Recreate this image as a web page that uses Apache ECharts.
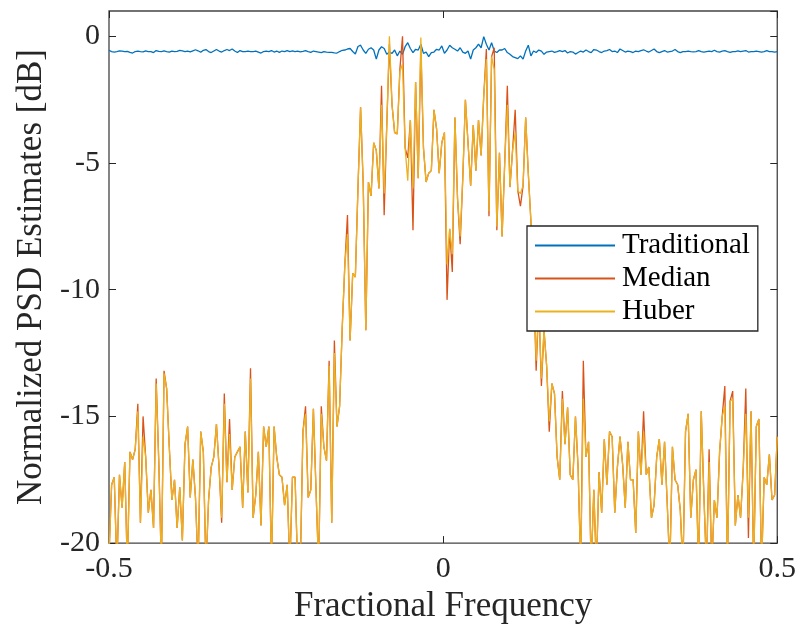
<!DOCTYPE html>
<html>
<head>
<meta charset="utf-8">
<script src="https://cdn.jsdelivr.net/npm/echarts@6/dist/echarts.min.js"></script>
<style>
html,body{margin:0;padding:0;background:#fff;}
#chart{width:799px;height:629px;}
</style>
</head>
<body>
<div id="chart"></div>
<script>
// ---- data ----
const seriesNames = ['Traditional', 'Median', 'Huber'];
const xTicks = [-0.5, 0, 0.5];
const yTicks = [-20, -15, -10, -5, 0];

const traditional = [
-0.55,-0.6,-0.62,-0.6,-0.57,-0.58,-0.6,-0.59,-0.63,-0.66,
-0.6,-0.58,-0.6,-0.61,-0.57,-0.6,-0.6,-0.64,-0.56,-0.59,
-0.6,-0.57,-0.6,-0.62,-0.58,-0.6,-0.59,-0.55,-0.57,-0.6,
-0.58,-0.61,-0.57,-0.53,-0.57,-0.63,-0.55,-0.52,-0.6,-0.64,
-0.58,-0.52,-0.58,-0.62,-0.56,-0.52,-0.56,-0.5,-0.58,-0.64,
-0.56,-0.6,-0.6,-0.58,-0.6,-0.6,-0.58,-0.62,-0.66,-0.6,
-0.58,-0.6,-0.56,-0.62,-0.58,-0.63,-0.58,-0.6,-0.56,-0.6,
-0.57,-0.6,-0.58,-0.61,-0.59,-0.56,-0.6,-0.63,-0.58,-0.6,
-0.62,-0.64,-0.6,-0.62,-0.63,-0.63,-0.65,-0.66,-0.6,-0.55,
-0.54,-0.5,-0.48,-0.6,-0.7,-0.4,-0.35,-0.54,-0.67,-0.51,
-0.45,-0.54,-0.9,-0.54,-0.41,-0.48,-0.71,-0.62,-0.67,-0.54,
-0.77,-0.58,-0.71,-0.41,-0.25,-0.48,-0.64,-0.51,-0.54,-0.31,
-0.67,-0.62,-0.8,-0.64,-0.62,-0.51,-0.54,-0.38,-0.67,-0.54,
-0.35,-0.45,-0.51,-0.58,-0.45,-0.62,-0.67,-0.58,-0.9,-0.54,
-0.45,-0.31,-0.45,-0.01,-0.31,-0.54,-0.25,-0.58,-0.64,-0.54,
-0.54,-0.48,-0.64,-0.71,-0.8,-0.84,-0.88,-0.77,-0.9,-0.58,
-0.35,-0.77,-0.58,-0.64,-0.54,-0.58,-0.71,
-0.62,-0.6,-0.58,-0.63,-0.6,-0.56,-0.6,-0.56,-0.66,-0.6,
-0.62,-0.7,-0.64,-0.58,-0.62,-0.54,-0.6,-0.64,-0.52,-0.54,
-0.6,-0.64,-0.58,-0.56,-0.52,-0.6,-0.58,-0.64,-0.5,-0.56,
-0.62,-0.58,-0.6,-0.64,-0.58,-0.6,-0.56,-0.53,-0.58,-0.62,
-0.56,-0.5,-0.6,-0.64,-0.6,-0.56,-0.62,-0.6,-0.58,-0.52,
-0.6,-0.64,-0.6,-0.6,-0.58,-0.6,-0.61,-0.6,-0.56,-0.6,
-0.62,-0.6,-0.58,-0.6,-0.55,-0.6,-0.62,-0.58,-0.56,-0.6,
-0.63,-0.6,-0.6,-0.57,-0.6,-0.58,-0.56,-0.62,-0.6,-0.6,
-0.58,-0.6,-0.62,-0.6,-0.56,-0.6,-0.6,-0.62,-0.6
];

const median = [
-20.5,-17.7,-17.4,-21,-17.3,-18.6,-16.8,-21,-16.4,-16.7,
-16.3,-14.5,-19.2,-15.0,-16.6,-18.8,-17.9,-19.4,-13.5,-16.8,
-21,-13.2,-13.9,-16.2,-18.3,-17.5,-19.4,-17.8,-19.9,-16.1,
-15.4,-18.2,-16.7,-18.2,-21,-15.6,-16.4,-21,-18.3,-17.0,
-16.6,-15.3,-17.0,-19.2,-14.1,-17.6,-15.1,-17.9,-16.6,-16.4,
-16.2,-18.6,-15.6,-18.0,-13.1,-19.0,-18.1,-16.4,-19.3,-15.4,
-16.2,-15.4,-21,-15.4,-16.6,-17.3,-17.4,-18.5,-17.7,-21,
-17.4,-17.4,-21,-21,-15.6,-14.6,-18.2,-17.9,-14.7,-17.9,
-21,-14.6,-16.2,-16.75,-12.8,-19.2,-12.0,-15.4,-14.6,-11.5,
-9.0,-7.05,-12.0,-9.35,-9.5,-6.0,-2.8,-5.8,-11.6,-5.75,
-6.3,-4.2,-4.5,-6.0,-1.95,-7.06,-3.5,-0.3,-2.7,-3.8,
-3.85,-1.3,0,-4.4,-4.8,-3.3,-7.65,-1.8,-5.6,-0.4,
-4.4,-5.75,-5.4,-5.3,-2.9,-3.65,-5.4,-4.2,-3.8,-10.4,
-7.6,-9.3,-3.2,-6.4,-8.2,-5.6,-2.5,-4.2,-5.9,-3.5,
-5.3,-3.3,-4.7,-2.35,-0.5,-7.1,-0.8,-0.45,-7.65,-4.6,
-7.9,-5.0,-1.95,-5.95,-4.5,-2.9,-6.1,-6.7,-5.9,-3.2,
-5.4,-7.3,-9.5,-13.2,-10.5,-13.8,-11.6,-13.0,-15.6,-13.7,
-14.1,-16.6,-17.5,-14.0,-16.1,-14.65,-17.3,-17.5,-15.0,-17.0,
-21,-12.8,-16.6,-16.0,-21,-17.9,-21,-17.2,-18.8,-15.9,
-17.7,-15.6,-15.8,-18.8,-17.0,-15.8,-16.9,-18.6,-16.0,-17.5,
-17.5,-19.6,-15.6,-17.3,-14.8,-17.3,-17.0,-19.0,-18.5,-16.6,
-15.9,-17.7,-16.0,-18.4,-21,-16.2,-17.5,-17.7,-18.7,-21,
-15.6,-14.9,-19.0,-17.5,-17.1,-21,-14.8,-18.1,-21,-16.3,
-21,-18.3,-19.0,-16.4,-15.0,-13.8,-21,-14.4,-14.0,-19.3,
-18.1,-19.0,-17.1,-13.9,-19.8,-14.8,-21,-15.4,-15.1,-21,
-17.4,-17.7,-16.5,-18.3,-18.1,-15.8
];

const huber = [
-20.5,-17.7,-17.4,-21,-17.3,-18.6,-16.8,-21,-16.4,-16.7,
-16.3,-14.8,-19.2,-15.8,-16.6,-18.8,-17.9,-19.4,-13.7,-16.8,
-21,-13.3,-13.9,-16.2,-18.3,-17.5,-19.4,-17.8,-19.9,-16.1,
-15.4,-18.2,-16.7,-18.2,-21,-15.6,-16.4,-21,-18.3,-17.0,
-16.6,-15.3,-17.0,-19.0,-14.5,-17.6,-15.7,-17.9,-16.6,-16.4,
-16.2,-18.6,-15.6,-18.0,-13.5,-19.0,-18.1,-16.4,-19.3,-15.4,
-16.2,-15.4,-21,-15.4,-16.6,-17.3,-17.4,-18.5,-17.7,-21,
-17.4,-17.4,-21,-21,-15.6,-14.9,-18.2,-17.9,-14.7,-17.9,
-21,-14.9,-16.2,-16.75,-13.0,-19.2,-12.5,-15.4,-14.6,-11.5,
-9.0,-7.8,-12.0,-9.35,-9.5,-6.0,-2.8,-5.8,-11.6,-5.75,
-6.3,-4.2,-4.5,-6.0,-2.7,-6.2,-3.5,0,-2.7,-3.8,
-3.85,-1.4,-1.1,-4.4,-5.7,-3.3,-6.0,-1.8,-5.6,-0.05,
-4.4,-5.75,-5.4,-5.3,-2.9,-3.65,-5.4,-4.2,-3.8,-9.0,
-7.6,-8.6,-3.2,-6.4,-7.9,-5.6,-2.5,-4.2,-5.9,-3.5,
-5.3,-3.3,-4.7,-2.35,-0.9,-6.9,-0.8,-1.3,-7.5,-4.6,
-7.9,-5.0,-2.7,-5.95,-4.5,-3.8,-6.1,-6.2,-5.9,-3.2,
-5.4,-7.3,-9.5,-12.8,-10.5,-13.5,-11.6,-13.0,-15.2,-13.7,
-14.1,-16.6,-17.5,-14.3,-16.1,-14.65,-17.3,-17.5,-15.0,-17.0,
-21,-14.3,-16.6,-16.0,-21,-17.9,-21,-17.2,-18.8,-15.9,
-17.7,-15.6,-15.8,-18.8,-17.0,-15.8,-16.9,-18.6,-16.0,-17.5,
-17.5,-19.6,-15.6,-17.3,-15.6,-17.3,-17.0,-19.0,-18.5,-16.6,
-15.9,-17.7,-16.0,-18.4,-21,-16.2,-17.5,-17.7,-18.7,-21,
-15.6,-14.9,-19.0,-17.5,-17.1,-21,-14.8,-18.1,-21,-16.8,
-21,-18.3,-19.0,-16.4,-15.0,-14.6,-21,-14.4,-14.3,-19.3,
-18.1,-19.0,-17.1,-14.9,-19.0,-14.8,-21,-15.4,-15.1,-21,
-17.4,-17.7,-16.5,-18.3,-18.1,-15.8
];

// frequency grid: evenly spaced bins from -0.5 to 0.5
function freqPairs(vals) {
  const n = vals.length;
  return vals.map((v, i) => [-0.5 + i / (n - 1), v]);
}

const FONT = '"Liberation Serif", "DejaVu Serif", serif';
const TXT = '#262626';
const colors = ['#0072BD', '#D95319', '#EDB120'];

const chart = echarts.init(document.getElementById('chart'), null, {renderer: 'canvas'});

const tickStyle = {show: true, inside: true, length: 7, lineStyle: {color: TXT, width: 1}};
const noLine = {show: false, onZero: false};

const option = {
  animation: false,
  backgroundColor: '#ffffff',
  textStyle: {fontFamily: FONT, color: TXT},
  grid: {left: 109, right: 20, top: 11, bottom: 83, show: true,
         borderColor: '#444444', borderWidth: 1.3, backgroundColor: '#ffffff'},
  legend: {
    data: seriesNames,
    orient: 'vertical',
    left: 527, top: 226,
    padding: [5, 8, 5, 8],
    itemGap: 4,
    itemWidth: 80, itemHeight: 2,
    icon: 'rect',
    backgroundColor: '#ffffff',
    borderColor: '#262626', borderWidth: 1.3,
    textStyle: {fontFamily: FONT, fontSize: 29, lineHeight: 29, color: '#000', padding: [0, 0, 0, 2]}
  },
  xAxis: [
    {type: 'value', min: xTicks[0], max: xTicks[xTicks.length - 1], interval: 0.5, position: 'bottom',
     name: 'Fractional Frequency', nameLocation: 'middle', nameGap: 45,
     nameTextStyle: {fontFamily: FONT, fontSize: 35, color: TXT},
     axisLine: noLine, axisTick: tickStyle,
     axisLabel: {fontFamily: FONT, fontSize: 30, color: TXT, margin: 11},
     splitLine: {show: false}},
    {type: 'value', min: xTicks[0], max: xTicks[xTicks.length - 1], interval: 0.5, position: 'top',
     axisLine: noLine, axisTick: tickStyle, axisLabel: {show: false}, splitLine: {show: false}}
  ],
  yAxis: [
    {type: 'value', min: yTicks[0], max: 1, interval: 5, position: 'left',
     name: 'Normalized PSD Estimates [dB]', nameLocation: 'middle', nameGap: 55,
     nameTextStyle: {fontFamily: FONT, fontSize: 35, color: TXT},
     axisLine: noLine, axisTick: tickStyle,
     axisLabel: {fontFamily: FONT, fontSize: 30, color: TXT, margin: 9, showMaxLabel: false,
                 formatter: v => (yTicks.indexOf(v) >= 0 ? String(v) : '')},
     splitLine: {show: false}},
    {type: 'value', min: yTicks[0], max: 1, interval: 5, position: 'right',
     axisLine: noLine, axisTick: tickStyle, axisLabel: {show: false}, splitLine: {show: false}}
  ],
  series: [
    {name: 'Traditional', type: 'line', data: freqPairs(traditional), showSymbol: false, symbol: 'none',
     clip: true, lineStyle: {width: 1.3, color: colors[0]}, itemStyle: {color: colors[0]}},
    {name: 'Median', type: 'line', data: freqPairs(median), showSymbol: false, symbol: 'none',
     clip: true, lineStyle: {width: 1.3, color: colors[1]}, itemStyle: {color: colors[1]}},
    {name: 'Huber', type: 'line', data: freqPairs(huber), showSymbol: false, symbol: 'none',
     clip: true, lineStyle: {width: 1.3, color: colors[2]}, itemStyle: {color: colors[2]}}
  ]
};
chart.setOption(option);
</script>
</body>
</html>
